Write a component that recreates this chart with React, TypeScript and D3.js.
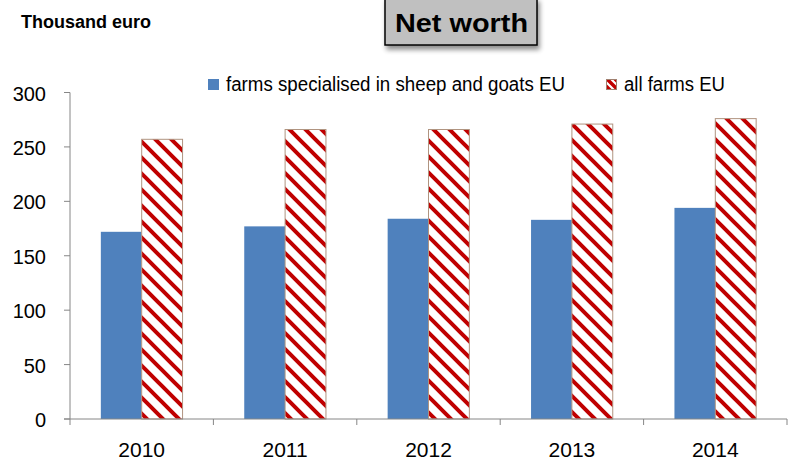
import React from "react";
import * as d3 from "d3";

const years = ["2010", "2011", "2012", "2013", "2014"];
const sheepGoats = [172, 177, 184, 183, 194];
const allFarms = [257, 266, 266, 271, 276];
const seriesNames = ["farms specialised in sheep and goats EU", "all farms EU"];
const yTicks = [0, 50, 100, 150, 200, 250, 300];

const W = 788;
const H = 462;
const left = 70;
const right = 787;
const top = 92.5;
const bottom = 419;
const FONT = "'Liberation Sans', Arial, sans-serif";

export default function App() {
  const x = d3.scaleBand<string>().domain(years).range([left, right]).padding(0);
  const inner = d3
    .scaleBand<string>()
    .domain(["a", "b"])
    .range([0, x.bandwidth()])
    .paddingInner(0)
    .paddingOuter(0.755);
  const y = d3.scaleLinear().domain([0, 300]).range([bottom, top]);

  const tickXs = [...years.map((yr) => x(yr) as number), right];

  return (
    <svg
      width={W}
      height={H}
      style={{ position: "absolute", left: 0, top: 0, background: "#fff" }}
      fontFamily={FONT}
    >
      <defs>
        <pattern id="hatch" patternUnits="userSpaceOnUse" width="16" height="16">
          <rect width="16" height="16" fill="#fff" />
          <path d="M-4,-4 L20,20 M-4,12 L4,20 M12,-4 L20,4" stroke="#c00000" strokeWidth="4" />
        </pattern>
        <pattern id="hatchSmall" patternUnits="userSpaceOnUse" width="8" height="8">
          <rect width="8" height="8" fill="#fff" />
          <path d="M-2,-2 L10,10 M-2,6 L2,10 M6,-2 L10,2" stroke="#c00000" strokeWidth="3.5" />
        </pattern>
        <filter id="shadow" x="-20%" y="-20%" width="140%" height="160%">
          <feGaussianBlur in="SourceAlpha" stdDeviation="2.5" />
          <feOffset dx="2" dy="4" result="b" />
          <feComponentTransfer>
            <feFuncA type="linear" slope="0.45" />
          </feComponentTransfer>
          <feMerge>
            <feMergeNode />
            <feMergeNode in="SourceGraphic" />
          </feMerge>
        </filter>
      </defs>

      {/* Title */}
      <g filter="url(#shadow)">
        <rect x={385} y={-2} width={152} height={47} fill="#c0c0c0" stroke="#000" strokeWidth={1.5} />
      </g>
      <text
        x={395}
        y={32}
        fontSize={26.5}
        fontWeight="bold"
        fill="#000"
        textLength={133}
        lengthAdjust="spacingAndGlyphs"
      >
        Net worth
      </text>

      <text
        x={21}
        y={28}
        fontSize={18}
        fontWeight="bold"
        fill="#000"
        textLength={130}
        lengthAdjust="spacingAndGlyphs"
      >
        Thousand euro
      </text>

      {/* Legend */}
      <rect x={208} y={79} width={11} height={11} fill="#4f81bd" />
      <text x={226} y={90.5} fontSize={20} fill="#000" textLength={339} lengthAdjust="spacingAndGlyphs">
        {seriesNames[0]}
      </text>
      <rect x={606.5} y={79.5} width={10} height={10} fill="url(#hatchSmall)" stroke="#a08070" strokeWidth={1} />
      <text x={624} y={90.5} fontSize={20} fill="#000" textLength={101} lengthAdjust="spacingAndGlyphs">
        {seriesNames[1]}
      </text>

      {/* Bars */}
      {years.map((yr, i) => {
        const x0 = x(yr) as number;
        return (
          <g key={yr}>
            <rect
              x={x0 + (inner("a") as number)}
              y={y(sheepGoats[i])}
              width={inner.bandwidth()}
              height={bottom - y(sheepGoats[i])}
              fill="#4f81bd"
            />
            <rect
              x={x0 + (inner("b") as number)}
              y={y(allFarms[i])}
              width={inner.bandwidth()}
              height={bottom - y(allFarms[i])}
              fill="url(#hatch)"
              stroke="#b09480"
              strokeWidth={1}
            />
          </g>
        );
      })}

      {/* Y axis */}
      <line x1={left} x2={left} y1={top} y2={bottom} stroke="#868686" strokeWidth={1} />
      {yTicks.map((t) => (
        <g key={t}>
          <line x1={left - 6} x2={left} y1={y(t)} y2={y(t)} stroke="#868686" />
          <text x={46} y={y(t) + 8} textAnchor="end" fontSize={20} fill="#000">
            {t}
          </text>
        </g>
      ))}

      {/* X axis */}
      <line x1={left - 6} x2={right} y1={bottom} y2={bottom} stroke="#868686" strokeWidth={1} />
      {tickXs.map((tx, i) => (
        <line key={i} x1={tx} x2={tx} y1={bottom} y2={bottom + 6} stroke="#868686" />
      ))}
      {years.map((yr) => (
        <text
          key={yr}
          x={(x(yr) as number) + x.bandwidth() / 2}
          y={456.5}
          textAnchor="middle"
          fontSize={21}
          fill="#000"
        >
          {yr}
        </text>
      ))}
    </svg>
  );
}
